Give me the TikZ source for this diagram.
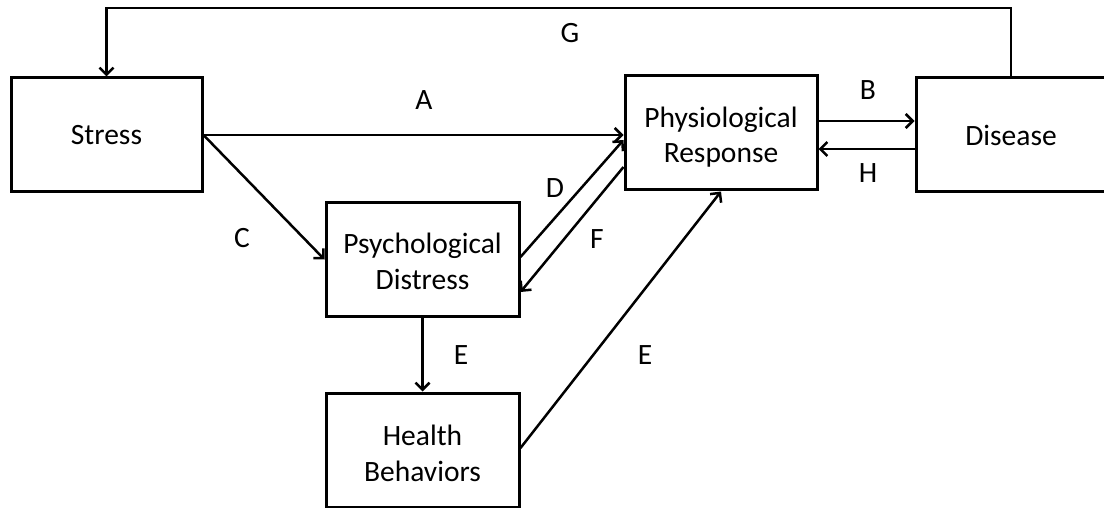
\documentclass[tikz,border=0pt]{standalone}
\usepackage{fontspec}
\setmainfont{Carlito}
\usetikzlibrary{arrows.meta}
\tikzset{
  box/.style={draw=black, line width=3pt, inner sep=0pt, align=center, fill=white,
    font=\fontsize{29.5}{35.5}\selectfont},
  conn/.style={draw=black, line width=2.5pt, -{Straight Barb[length=7pt,width=14pt]}},
  lbl/.style={inner sep=0pt, font=\fontsize{29.5}{35.5}\selectfont}
}
\newcommand{\topstrut}[1]{\rule{0pt}{#1}}
\begin{document}
\begin{tikzpicture}[x=1pt,y=-1pt]
\useasboundingbox (0,0) rectangle (1104,508);
\fill[white] (0,0) rectangle (1104,508);
\node[box, minimum width=191pt, minimum height=114pt] (stress) at (106.5,135) {Stress};
\node[box, minimum width=192pt, minimum height=114pt] (phys) at (721,133) {\topstrut{29pt}Physiological\\Response};
\node[box, minimum width=190pt, minimum height=114pt] (disease) at (1011,135) {Disease};
\node[box, minimum width=193pt, minimum height=113pt] (psych) at (422.5,259.5) {\topstrut{24pt}Psychological\\Distress};
\node[box, minimum width=193pt, minimum height=114pt] (health) at (422.5,450) {\topstrut{27pt}Health\\Behaviors};
\coordinate (gtop) at (0,8);
\coordinate (pB) at ([yshift=12pt]phys.east);
\coordinate (pH) at ([yshift=-16pt]phys.east);
\coordinate (pD) at ([yshift=-7pt]phys.west);
\coordinate (pF) at ([yshift=-34pt]phys.west);
\coordinate (sD) at ([yshift=2.5pt]psych.east);
\coordinate (sF) at ([yshift=-32.5pt]psych.east);
\coordinate (hE) at ([yshift=2pt]health.east);
% G
\draw[conn] (disease.north) -- (disease.north |- gtop) -| (stress.north);
% A
\draw[conn] (stress.east) -- (phys.west |- stress.east);
% C
\draw[conn] (stress.east) -- (psych.west);
% B and H
\draw[conn] (pB) -- (disease.west |- pB);
\draw[conn] (disease.west |- pH) -- (pH);
% D and F
\draw[conn] (sD) -- (pD);
\draw[conn] (pF) -- (sF);
% E
\draw[conn] (psych.south) -- (health.north);
\draw[conn] (hE) -- (phys.south);
% labels
\node[lbl] (la) at (424,100) {A};
\node[lbl] (lb) at (868,90) {B};
\node[lbl] (lc) at (242,238) {C};
\node[lbl] (ld) at (555,188) {D};
\node[lbl] (le1) at (461,355) {E};
\node[lbl] (le2) at (645,355) {E};
\node[lbl] (lf) at (597,239) {F};
\node[lbl] (lg) at (570,33) {G};
\node[lbl] (lh) at (868,173) {H};
\end{tikzpicture}
\end{document}
